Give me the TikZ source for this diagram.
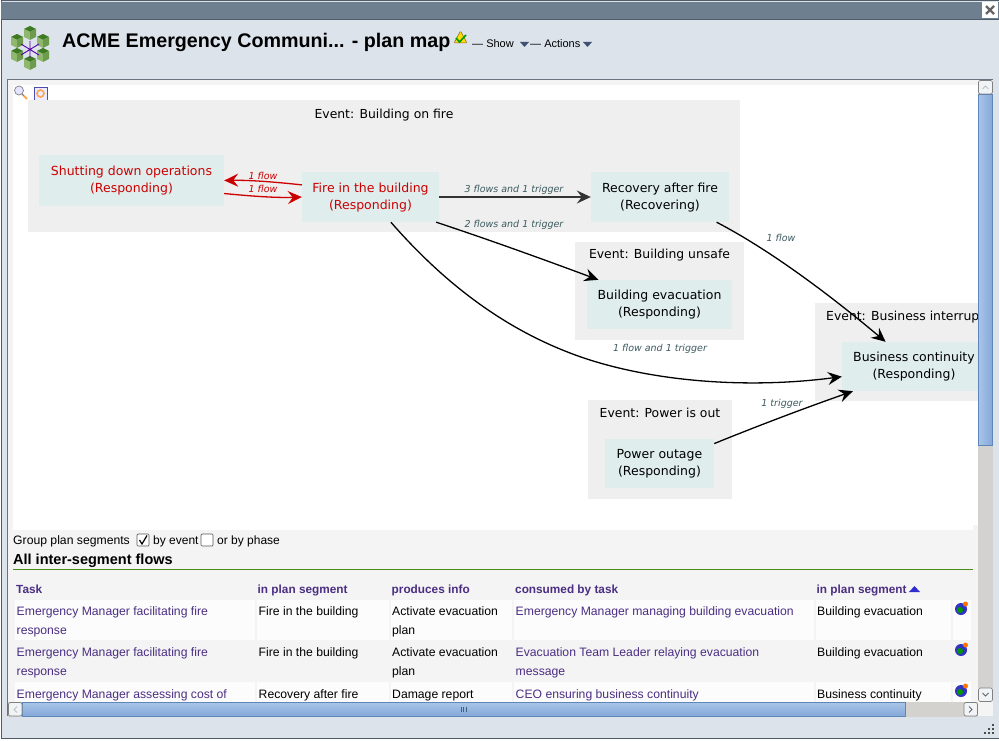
\documentclass[tikz,border=0pt]{standalone}
\usepackage{fontspec}
\setmainfont{Liberation Sans}
\newfontfamily\mapfont{DejaVu Sans}
\usetikzlibrary{arrows.meta,positioning,calc}
\definecolor{winBar}{HTML}{6E7F90}
\definecolor{winEdge}{HTML}{4F5B69}
\definecolor{winBack}{HTML}{DCE3EB}
\definecolor{panelBack}{HTML}{F4F4F4}
\definecolor{groupBack}{HTML}{EFEFEF}
\definecolor{taskBack}{HTML}{E0EDED}
\definecolor{flowRed}{HTML}{CC0000}
\definecolor{flowLabel}{HTML}{3B5A5F}
\definecolor{tablePurple}{HTML}{4B2E83}
\definecolor{ruleGreen}{HTML}{4B8B1C}
\definecolor{cellBack}{HTML}{FCFCFC}
\definecolor{scrollTrack}{HTML}{D4D2CE}
\definecolor{scrollEdge}{HTML}{5F86B8}
\definecolor{thumbLight}{HTML}{A8C4E8}
\definecolor{thumbDark}{HTML}{85A8D8}
\definecolor{menuArrow}{HTML}{3F5070}
\definecolor{cubeTop}{HTML}{3E7A22}
\definecolor{cubeLeft}{HTML}{8FB86E}
\definecolor{cubeRight}{HTML}{6D9B4C}
\tikzset{
    evgroup/.style={
        rectangle,
        fill=groupBack,
        inner sep=0pt
    },
    evlabel/.style={
        font=\mapfont\fontsize{12.4}{16}\selectfont,
        inner sep=0pt
    },
    task/.style={
        rectangle,
        fill=taskBack,
        align=center,
        inner sep=0pt,
        font=\mapfont\fontsize{12.5}{17}\selectfont
    },
    hottask/.style={task, text=flowRed},
    % Arrows
    flow/.style={-{Stealth[length=14pt,width=13pt,inset=5pt]}, line width=1.3pt, draw=black},
    hotflow/.style={flow, draw=flowRed},
    flowtext/.style={font=\mapfont\itshape\fontsize{9.5}{12}\selectfont, text=flowLabel, inner sep=0pt},
    hotflowtext/.style={flowtext, text=flowRed},
    % Table
    cell/.style={font=\fontsize{12.2}{14}\selectfont, anchor=base west, inner sep=0pt},
    linkcell/.style={cell, text=tablePurple},
    headcell/.style={cell, font=\bfseries\fontsize{11.8}{14}\selectfont, text=tablePurple},
    scrollbtn/.style={draw=gray, fill=winBack!40!white, rounded corners=2pt, line width=0.7pt}
}
\newcommand{\planCube}[2]{%
    \fill[cubeTop] (#1,#2-7) -- (#1+6,#2-4) -- (#1,#2-1) -- (#1-6,#2-4) -- cycle;
    \fill[cubeLeft] (#1-6,#2-4) -- (#1,#2-1) -- (#1,#2+7) -- (#1-6,#2+4) -- cycle;
    \fill[cubeRight] (#1+6,#2-4) -- (#1,#2-1) -- (#1,#2+7) -- (#1+6,#2+4) -- cycle;
}
\newcommand{\globeIcon}[2]{%
    \fill[blue!70!black!80] (#1,#2) circle (6);
    \fill[green!60!black] (#1-1,#2+1) circle (3);
    \fill[orange!90!red] (#1+4.5,#2-5) circle (2.5);
}
\newcommand{\lowstrut}{\rule{0pt}{10.5pt}}
\begin{document}
\begin{tikzpicture}[x=1pt,y=-1pt]
\useasboundingbox (0,0) rectangle (999,741);
\fill[white] (0,0) rectangle (999,741);

% window
\fill[winBack] (1,1) rectangle (999,738);
\draw[winEdge, line width=1pt] (1,738) -- (1,1) -- (999,1);
\draw[winEdge, line width=1pt] (1,738) -- (999,738);
\fill[winBar] (1,2) rectangle (999,19);
\draw[winEdge, line width=1pt] (1,19.5) -- (999,19.5);
\node[fill=white, minimum width=16pt, minimum height=16pt, inner sep=0pt] (closebtn) at (990,10) {};
\draw[gray!80!black, line width=2.2pt] (986,6) -- (994,14) (994,6) -- (986,14);

% header
\foreach \cx/\cy in {30/33, 43/41, 43/55, 30/63, 17/55, 17/41} {
    \planCube{\cx}{\cy}
}
\draw[violet!70!blue, line width=0.9pt] (30,41) -- (30,58) (21,44) -- (39,55) (39,44) -- (21,55);
\node[anchor=base west, inner sep=0pt, font=\bfseries\fontsize{19.7}{24}\selectfont] (title) at (62,48) {ACME Emergency Communi... - plan map};
\fill[yellow!80!orange, draw=brown!70!black, line width=0.5pt, rounded corners=1pt] (454,43) -- (460.5,31) -- (467,43) -- cycle;
\draw[green!60!black, line width=1.6pt] (456,38) -- (459.5,42) -- (466,35);
\node[anchor=base west, inner sep=0pt, font=\fontsize{11}{13}\selectfont] (showmenu) at (472,48) {— Show};
\node[anchor=base west, inner sep=0pt, font=\fontsize{11}{13}\selectfont] (actionsmenu) at (530,48) {— Actions};
\fill[menuArrow] (520,42) -- (529,42) -- (524.5,47) -- cycle;
\fill[menuArrow] (583,42) -- (592,42) -- (587.5,47) -- cycle;

% content panel
\fill[panelBack] (8,80) rectangle (993,716);
\draw[winEdge!85!white, line width=1pt] (7.5,716) -- (7.5,79.5) -- (993,79.5);
\fill[white] (13,85) rectangle (978,525);
\fill[white] (13,525) rectangle (973,530);
\draw[gray, line width=1.4pt] (22,94) -- (24,96);
\draw[orange!70!white, line width=1.8pt] (24,96) -- (27,99);
\draw[gray, fill=blue!10, line width=0.7pt] (19,90.5) circle (4.5);
\draw[blue!40!gray, fill=blue!8, line width=0.7pt] (34,87) rectangle (47,100);
\draw[orange!70!white, line width=1.6pt] (40.5,93.5) circle (3.5);

% event groups
\node[evgroup, minimum width=712pt, minimum height=132pt] (firegrp) at (384,166) {};
\node[evgroup, minimum width=169pt, minimum height=98pt] (unsafegrp) at (659.5,291) {};
\node[evgroup, minimum width=170pt, minimum height=98pt] (interruptgrp) at (900,352) {};
\node[evgroup, minimum width=144pt, minimum height=99pt] (powergrp) at (660,449.5) {};
\node[evlabel, below=9pt of firegrp.north] (firelabel) {Event: Building on fire};
\node[evlabel, below=7.5pt of unsafegrp.north] (unsafelabel) {Event: Building unsafe};
\node[evlabel, anchor=west] (interruptlabel) at (826,317) {Event: Business interrup};
\node[evlabel, below=8pt of powergrp.north] (powerlabel) {Event: Power is out};

% plan segments
\node[hottask, minimum width=185pt, minimum height=51pt] (shutting) at (131.5,180.5) {\lowstrut Shutting down operations\\(Responding)};
\node[hottask, minimum width=137pt, minimum height=50pt] (fire) at (370.5,197) {\lowstrut Fire in the building\\(Responding)};
\node[task, minimum width=138pt, minimum height=50pt] (recovery) at (660,197) {\lowstrut Recovery after fire\\(Recovering)};
\node[task, minimum width=145pt, minimum height=49pt] (evacuation) at (659.5,304.5) {\lowstrut Building evacuation\\(Responding)};
\node[task, minimum width=144pt, minimum height=49pt] (continuity) at (914,366.5) {\lowstrut Business continuity\\(Responding)};
\node[task, minimum width=109pt, minimum height=49pt] (outage) at (659.5,463.5) {\lowstrut Power outage\\(Responding)};

\draw[hotflow] (fire.170) .. controls (275,182) and (250,180) .. (shutting.east);
\draw[hotflow] (shutting.-8) .. controls (250,196) and (275,198) .. (fire.west);
\draw[flow, draw=black!80, line width=1.6pt] (fire.east) -- (recovery.west);
\draw[flow] (fire.-21) .. controls (490,240) and (545,260) .. (evacuation.158);
\draw[flow] (fire.-51) .. controls (450,290) and (510,330) .. (570,353) .. controls (640,380) and (740,390) .. (continuity.188);
\draw[flow] (recovery.-24) .. controls (770,250) and (830,295) .. (continuity.139);
\draw[flow] (outage.20) .. controls (760,425) and (805,408) .. (continuity.202);

\node[hotflowtext] (hotlabela) at (263,175.5) {1 flow};
\node[hotflowtext] (hotlabelb) at (263,188.5) {1 flow};
\node[flowtext] (reclabel) at (514,189.5) {3 flows and 1 trigger};
\node[flowtext] (evaclabel) at (514,224.5) {2 flows and 1 trigger};
\node[flowtext] (contlabel) at (781,237.5) {1 flow};
\node[flowtext] (firecontlabel) at (660,348.5) {1 flow and 1 trigger};
\node[flowtext] (powerflowlabel) at (782,403.5) {1 trigger};

% grouping options
\node[cell] (grouptext) at (13,544) {Group plan segments};
\draw[gray!70!black, fill=white, rounded corners=1pt, line width=0.7pt] (137,534) rectangle (149,546);
\draw[black, line width=1.2pt] (139.5,540) -- (142,544) -- (147,535.5);
\node[cell, font=\fontsize{12}{14}\selectfont] (eventtext) at (153,544) {by event};
\draw[gray!70!black, fill=white, rounded corners=1pt, line width=0.7pt] (201,534) rectangle (213,546);
\node[cell, font=\fontsize{12}{14}\selectfont] (phasetext) at (217,544) {or by phase};
\node[cell, font=\bfseries\fontsize{14.5}{16}\selectfont] (flowshead) at (13,564) {All inter-segment flows};
\draw[ruleGreen, line width=1pt] (13,569.5) -- (973,569.5);

% table
\foreach \xa/\xb in {15/255, 257/389, 391/512, 514/814, 816/951, 953/971} {
    \fill[cellBack] (\xa,600) rectangle (\xb,640);
    \fill[cellBack] (\xa,682) rectangle (\xb,702);
}
\node[headcell] (headtask) at (16,593) {Task};
\node[headcell] (headseg) at (257.5,593) {in plan segment};
\node[headcell] (headinfo) at (391.5,593) {produces info};
\node[headcell] (headcons) at (515,593) {consumed by task};
\node[headcell] (headsegb) at (816.5,593) {in plan segment};
\fill[blue!65!gray] (909,592) -- (914.5,586) -- (920,592) -- cycle;

\foreach \ya/\yb/\rowid in {615/634/a, 656/675/b} {
    \node[linkcell] (task\rowid) at (16.5,\ya) {Emergency Manager facilitating fire};
    \node[linkcell] (taskmore\rowid) at (16.5,\yb) {response};
    \node[cell] (seg\rowid) at (258.5,\ya) {Fire in the building};
    \node[cell] (info\rowid) at (392,\ya) {Activate evacuation};
    \node[cell] (infomore\rowid) at (392,\yb) {plan};
    \node[cell] (segb\rowid) at (817,\ya) {Building evacuation};
}
\node[linkcell] (consa) at (515.5,615) {Emergency Manager managing building evacuation};
\node[linkcell] (consb) at (515.5,656) {Evacuation Team Leader relaying evacuation};
\node[linkcell] (consmoreb) at (515.5,675) {message};
\node[linkcell] (taskc) at (16.5,698) {Emergency Manager assessing cost of};
\node[cell] (segc) at (258.5,698) {Recovery after fire};
\node[cell] (infoc) at (392,698) {Damage report};
\node[linkcell] (consc) at (515.5,698) {CEO ensuring business continuity};
\node[cell] (segbc) at (817,698) {Business continuity};
\foreach \gy in {609, 650, 691} {
    \globeIcon{961}{\gy}
}

% scrollbars
\fill[panelBack] (978,80) rectangle (993,702);
\fill[scrollTrack] (978,95) rectangle (993,688);
\shade[left color=thumbLight, right color=thumbDark, draw=scrollEdge] (978.5,94.5) rectangle (992.5,445);
\draw[scrollbtn] (978.5,80.5) rectangle (992.5,94);
\draw[gray!70] (982.5,89) -- (985.5,86) -- (988.5,89);
\draw[scrollbtn] (978.5,688) rectangle (992.5,701.5);
\draw[gray!80!black, line width=0.9pt] (982.5,693) -- (985.5,696) -- (988.5,693);
\fill[scrollTrack] (8,702) rectangle (978,717);
\shade[top color=thumbLight, bottom color=thumbDark, draw=scrollEdge] (22,702.5) rectangle (905.5,716);
\draw[scrollbtn] (8.5,702.5) rectangle (22,716);
\draw[gray!70] (17,706.5) -- (14,709.5) -- (17,712.5);
\draw[scrollbtn] (964,702.5) rectangle (977.5,716);
\draw[gray!80!black, line width=0.9pt] (969,706.5) -- (972,709.5) -- (969,712.5);
\draw[scrollEdge!70!black, line width=0.6pt] (461,707) -- (461,712) (463.5,707) -- (463.5,712) (466,707) -- (466,712);
\foreach \gx/\gy in {992/724, 988/728, 992/728, 984/732, 988/732, 992/732} {
    \fill[black!70] (\gx,\gy) rectangle ++(2,2);
}
\end{tikzpicture}
\end{document}
